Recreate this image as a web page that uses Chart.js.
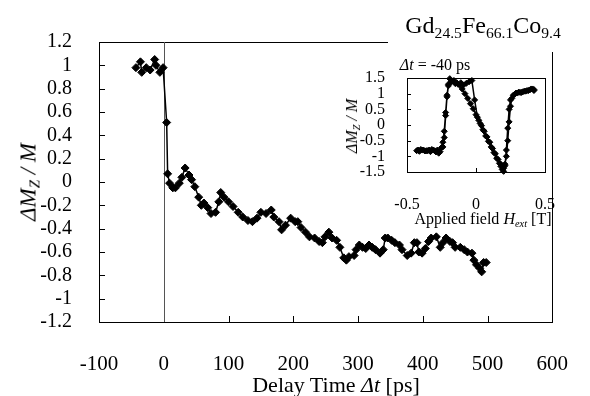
<!DOCTYPE html>
<html>
<head>
<meta charset="utf-8">
<script src="https://cdn.jsdelivr.net/npm/chart.js@4.4.1/dist/chart.umd.min.js"></script>
<style>
  body { margin: 0; background: #fff; }
  #wrap { position: relative; width: 590px; height: 396px; font-family: 'Liberation Serif', 'Times New Roman', serif; color: #000; }
  canvas { position: absolute; }
  .lbl { position: absolute; white-space: nowrap; transform: translate(-50%, -50%); line-height: 1; }
  .rot { transform: translate(-50%, -50%) rotate(-90deg); }
  sub { font-size: 65%; vertical-align: -0.3em; line-height: 0; }
</style>
</head>
<body>
<div id="wrap">
  <canvas id="main" width="590" height="396" style="left:0;top:0"></canvas>
  <canvas id="inset" width="240" height="180" style="left:330px;top:50px"></canvas>

  <div class="lbl" style="left:483px;top:25px;font-size:24px">Gd<sub>24.5</sub>Fe<sub>66.1</sub>Co<sub>9.4</sub></div>
  <div class="lbl rot" style="left:28px;top:182px;font-size:23px"><i>ΔM</i><sub><i>Z</i></sub><i> / M</i></div>
  <div class="lbl" style="left:336px;top:385px;font-size:22px">Delay Time <i>Δt</i> [ps]</div>

  <div class="lbl" style="left:435px;top:65px;font-size:16px"><i>Δt</i> = -40 ps</div>
  <div class="lbl rot" style="left:352px;top:126px;font-size:16px"><i>ΔM</i><sub><i>Z</i></sub><i> / M</i></div>
  <div class="lbl" style="left:483px;top:219px;font-size:16px">Applied field <i>H<sub>ext</sub></i> [T]</div>
</div>

<script>
// main curve: delay time (ps) vs normalised magnetisation change
const delayTime = [-43, -36, -34, -27, -21, -14, -12, -6, -1, 4.5, 6, 9, 14, 18, 24, 28, 33, 39, 43, 48, 54, 58, 62, 68, 73, 80, 85, 88, 93, 100, 107, 115, 122, 130, 137, 144, 150, 158, 166, 170, 178, 182, 188, 196, 203, 207, 212, 219, 225, 233, 240, 245, 249, 255, 260, 267, 272, 278, 282, 286, 294, 297, 302, 307, 312, 317, 322, 327, 334, 339, 342, 346, 352, 357, 364, 368, 376, 382, 387, 391, 394, 399, 404, 409, 413, 421, 427, 431, 436, 442, 446, 450, 458, 464, 469, 476, 479, 483, 488, 491, 494, 498];
const deltaMz = [0.98, 1.03, 0.94, 0.98, 0.96, 1.05, 1.0, 0.94, 0.98, 0.51, 0.07, -0.01, -0.05, -0.05, -0.01, 0.04, 0.12, 0.06, 0.02, -0.04, -0.13, -0.2, -0.18, -0.22, -0.27, -0.26, -0.17, -0.09, -0.13, -0.17, -0.21, -0.26, -0.3, -0.33, -0.34, -0.31, -0.26, -0.27, -0.24, -0.3, -0.34, -0.41, -0.37, -0.31, -0.34, -0.34, -0.39, -0.43, -0.47, -0.48, -0.51, -0.52, -0.47, -0.43, -0.48, -0.5, -0.56, -0.65, -0.67, -0.64, -0.63, -0.58, -0.54, -0.56, -0.57, -0.54, -0.56, -0.58, -0.61, -0.58, -0.48, -0.48, -0.5, -0.52, -0.54, -0.58, -0.63, -0.61, -0.52, -0.52, -0.6, -0.61, -0.57, -0.51, -0.48, -0.47, -0.56, -0.52, -0.48, -0.51, -0.52, -0.56, -0.56, -0.58, -0.6, -0.61, -0.67, -0.71, -0.74, -0.77, -0.69, -0.69];

// inset: field sweep at dt = -40 ps (up sweep, then down sweep)
const fieldUp = [-0.43, -0.41, -0.39, -0.37, -0.35, -0.33, -0.31, -0.29, -0.27, -0.25, -0.24, -0.23, -0.22, -0.21, -0.20, -0.19, -0.17, -0.15, -0.13, -0.11, -0.09, -0.07, -0.05, -0.03, -0.01, 0.01, 0.03, 0.05, 0.07, 0.09, 0.11, 0.13, 0.15, 0.17, 0.18, 0.19, 0.20, 0.21, 0.22, 0.23, 0.24, 0.25, 0.27, 0.29, 0.31, 0.33, 0.35, 0.37, 0.39, 0.41, 0.42];
const momentUp = [-0.82, -0.84, -0.80, -0.83, -0.82, -0.85, -0.80, -0.86, -0.90, -0.72, -0.55, -0.20, 0.40, 0.95, 1.30, 1.48, 1.40, 1.32, 1.30, 1.35, 1.28, 1.33, 1.38, 1.42, 0.80, 0.25, 0.05, -0.15, -0.35, -0.52, -0.70, -0.88, -1.06, -1.22, -1.32, -1.42, -1.48, -1.30, -0.80, -0.10, 0.50, 0.80, 0.95, 1.02, 1.05, 1.04, 1.08, 1.10, 1.12, 1.15, 1.10];
const fieldDown = [0.42, 0.40, 0.38, 0.36, 0.34, 0.32, 0.30, 0.28, 0.26, 0.25, 0.24, 0.23, 0.22, 0.21, 0.20, 0.18, 0.16, 0.14, 0.12, 0.10, 0.08, 0.06, 0.04, 0.02, 0.00, -0.02, -0.04, -0.06, -0.08, -0.10, -0.12, -0.14, -0.16, -0.18, -0.20, -0.21, -0.22, -0.23, -0.24, -0.26, -0.28, -0.30, -0.32, -0.34, -0.36, -0.38, -0.40, -0.42];
const momentDown = [1.13, 1.15, 1.10, 1.08, 1.06, 1.04, 1.02, 0.98, 0.85, 0.60, 0.10, -0.50, -1.00, -1.25, -1.38, -1.25, -1.10, -0.92, -0.75, -0.55, -0.38, -0.20, -0.02, 0.15, 0.33, 0.52, 0.68, 0.85, 1.00, 1.15, 1.28, 1.35, 1.42, 1.38, 1.25, 0.90, 0.30, -0.40, -0.70, -0.85, -0.80, -0.82, -0.78, -0.80, -0.82, -0.80, -0.78, -0.80];

const FONT = "'Liberation Serif', 'Times New Roman', serif";

const toPoints = (xs, ys) => xs.map((x, i) => ({ x: x, y: ys[i] }));

// box frame + inward ticks, drawn under the data
const framePlugin = (o) => ({
  id: 'frame',
  beforeDatasetsDraw(chart) {
    const { ctx, chartArea: a, scales: { x, y } } = chart;
    ctx.save();
    ctx.strokeStyle = '#000';
    ctx.lineWidth = 1;
    ctx.strokeRect(Math.round(a.left) + 0.5, Math.round(a.top) + 0.5, Math.round(a.width), Math.round(a.height));
    ctx.beginPath();
    o.xTicks.forEach(v => {
      const px = Math.round(x.getPixelForValue(v)) + 0.5;
      ctx.moveTo(px, a.bottom);
      ctx.lineTo(px, a.bottom - o.len);
    });
    o.yTicks.forEach(v => {
      const py = Math.round(y.getPixelForValue(v)) + 0.5;
      ctx.moveTo(a.left, py);
      ctx.lineTo(a.left + o.len, py);
    });
    ctx.stroke();
    if (o.zeroLine) {
      const px = Math.round(x.getPixelForValue(0)) + 0.5;
      ctx.strokeStyle = '#555';
      ctx.beginPath();
      ctx.moveTo(px, a.top);
      ctx.lineTo(px, a.bottom);
      ctx.stroke();
    }
    if (o.cover) {
      ctx.fillStyle = '#fff';
      ctx.fillRect(o.cover[0], o.cover[1], o.cover[2], o.cover[3]);
    }
    ctx.restore();
  }
});

new Chart(document.getElementById('main'), {
  type: 'line',
  data: {
    datasets: [{
      data: toPoints(delayTime, deltaMz),
      borderColor: '#000',
      backgroundColor: '#000',
      borderWidth: 1.5,
      pointStyle: 'rectRot',
      pointRadius: 4,
      pointBorderWidth: 1,
      tension: 0,
      clip: false
    }]
  },
  options: {
    responsive: false,
    animation: false,
    layout: { padding: { top: 42, right: 22, left: 0, bottom: 0 } },
    plugins: { legend: { display: false }, tooltip: { enabled: false } },
    scales: {
      x: {
        type: 'linear', min: -100, max: 600,
        grid: { display: false }, border: { display: false },
        ticks: { stepSize: 100, padding: 22, color: '#000', font: { family: FONT, size: 21 }, maxRotation: 0 },
        afterFit: s => { s.height = 74; }
      },
      y: {
        type: 'linear', min: -1.2, max: 1.2,
        grid: { display: false }, border: { display: false },
        ticks: { stepSize: 0.2, padding: 19, autoSkip: false, color: '#000', font: { family: FONT, size: 20 },
                 callback: v => String(+v.toFixed(1)) },
        afterFit: s => { s.width = 99; }
      }
    }
  },
  plugins: [framePlugin({
    xTicks: [0, 100, 200, 300, 400, 500],
    yTicks: [-1, -0.8, -0.6, -0.4, -0.2, 0, 0.2, 0.4, 0.6, 0.8, 1],
    len: 6, zeroLine: true, cover: [388, 0, 202, 52]
  })]
});

new Chart(document.getElementById('inset'), {
  type: 'line',
  data: {
    datasets: [{
      data: toPoints(fieldUp.concat(fieldDown), momentUp.concat(momentDown)),
      borderColor: '#000',
      backgroundColor: '#000',
      borderWidth: 1.5,
      pointStyle: 'rectRot',
      pointRadius: 3,
      pointBorderWidth: 1,
      tension: 0,
      clip: false
    }]
  },
  options: {
    responsive: false,
    animation: false,
    layout: { padding: { top: 28, right: 17, left: 0, bottom: 0 } },
    plugins: { legend: { display: false }, tooltip: { enabled: false } },
    scales: {
      x: {
        type: 'linear', min: -0.5, max: 0.5,
        grid: { display: false }, border: { display: false },
        ticks: { stepSize: 0.5, padding: 15, color: '#000', font: { family: FONT, size: 16 }, maxRotation: 0 },
        afterFit: s => { s.height = 58; }
      },
      y: {
        type: 'linear', min: -1.5, max: 1.5,
        grid: { display: false }, border: { display: false },
        ticks: { stepSize: 0.5, padding: 14, autoSkip: false, color: '#000', font: { family: FONT, size: 16 },
                 callback: v => String(+v.toFixed(1)) },
        afterFit: s => { s.width = 77; }
      }
    }
  },
  plugins: [framePlugin({
    xTicks: [0],
    yTicks: [-1, -0.5, 0, 0.5, 1],
    len: 4
  })]
});
</script>
</body>
</html>
